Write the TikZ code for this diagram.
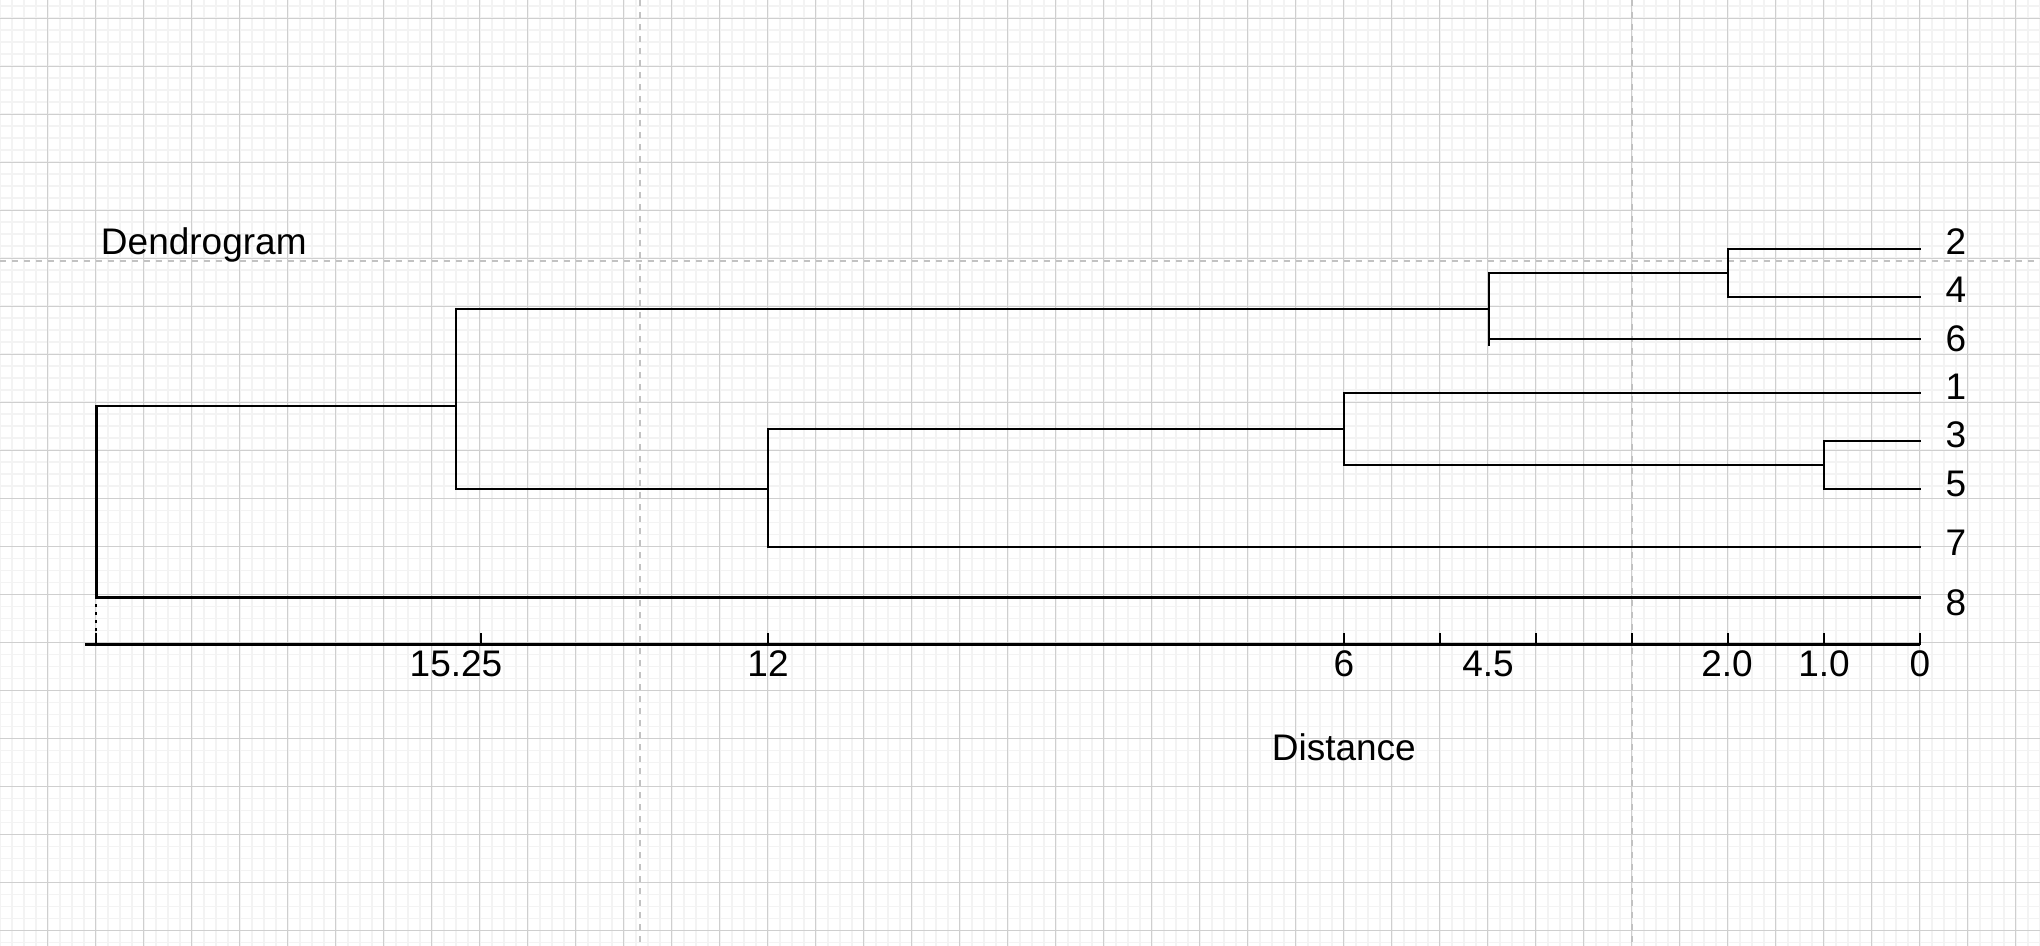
\documentclass[tikz,border=0pt]{standalone}
\usepackage{fontspec}
\setmainfont{Liberation Sans}
\definecolor{gridmajor}{HTML}{CFCFCF}
\definecolor{gridminor}{HTML}{F3F3F3}
\definecolor{pagebreak}{HTML}{C2C2C2}
\begin{document}
\begin{tikzpicture}[x=0.5pt,y=-0.5pt,
  tree/.style={line width=1.1pt,black,line cap=rect},
  axisline/.style={line width=1.3pt,black},
  tickline/.style={line width=1pt,black},
  lbl/.style={font=\fontsize{18.5}{21}\selectfont,anchor=base,inner sep=0pt,outer sep=0pt},
  minorgrid/.style={gridminor,line width=0.8pt},
  majorgrid/.style={gridmajor,line width=0.5pt},
  breakline/.style={pagebreak,line width=1pt,dash pattern=on 3pt off 3pt}]
\useasboundingbox (0,0) rectangle (2040,946);
\fill[white] (0,0) rectangle (2040,946);
\begin{scope}
\clip (0,0) rectangle (2040,946);
% minor grid
\foreach \i in {0,...,171} \draw[minorgrid] (12*\i-0.3,0) -- (12*\i-0.3,946);
\foreach \j in {0,...,79} \draw[minorgrid] (0,12*\j+6.3) -- (2040,12*\j+6.3);
% major grid
\foreach \i in {1,...,42} \draw[majorgrid] (48*\i-0.3,0) -- (48*\i-0.3,946);
\foreach \j in {0,...,19} \draw[majorgrid] (0,48*\j+18.3) -- (2040,48*\j+18.3);
% page break lines
\draw[breakline] (0,260.7) -- (2040,260.7);
\draw[breakline] (640,0) -- (640,946);
\draw[breakline] (1632.2,0) -- (1632.2,946);
\end{scope}

% ---- coordinates ----
\coordinate (E2) at (1920,249.3);
\coordinate (E4) at (1920,297.3);
\coordinate (E6) at (1920,339);
\coordinate (E1) at (1920,393);
\coordinate (E3) at (1920,441.3);
\coordinate (E5) at (1920,489.3);
\coordinate (E7) at (1920,546.7);
\coordinate (E8) at (1920,597.5);

\coordinate (M20t) at (1728,249.3);
\coordinate (M20b) at (1728,297.3);
\coordinate (M20m) at (1728,273);
\coordinate (M45t) at (1488.8,273);
\coordinate (M45b) at (1488.8,345);
\coordinate (M45l) at (1488.8,339);
\coordinate (M45m) at (1488.8,309.3);

\coordinate (M10t) at (1824,441.3);
\coordinate (M10b) at (1824,489.3);
\coordinate (M10m) at (1824,465.3);
\coordinate (M6t) at (1344,393);
\coordinate (M6b) at (1344,465.3);
\coordinate (M6m) at (1344,429.3);
\coordinate (M12t) at (767.7,429.3);
\coordinate (M12b) at (767.7,547.3);
\coordinate (M12l) at (767.7,546.7);
\coordinate (M12m) at (767.7,489.3);

\coordinate (M15t) at (456.3,309.3);
\coordinate (M15b) at (456.3,489.3);
\coordinate (M15m) at (456.3,405.7);
\coordinate (Rt) at (96.4,405.7);
\coordinate (Rb) at (96.4,597.5);

% ---- tree ----
\draw[tree] (E2) -- (M20t) -- (M20b) -- (E4);
\draw[tree] (M20m) -- (M45t) -- (M45b);
\draw[tree] (M45l) -- (E6);
\draw[tree] (E3) -- (M10t) -- (M10b) -- (E5);
\draw[tree] (M10m) -- (M6b) -- (M6t) -- (E1);
\draw[tree] (M6m) -- (M12t) -- (M12b);
\draw[tree] (M12l) -- (E7);
\draw[tree] (M45m) -- (M15t) -- (M15b) -- (M12m);
\draw[tree] (M15m) -- (Rt) -- (Rb) -- (E8);

% ---- axis ----
\coordinate (A0) at (84.8,644.5);
\coordinate (A1) at (1920,644.5);
\draw[axisline] (A0) -- (A1);
\coordinate (D0) at (96.4,604);
\coordinate (D1) at (96.4,633);
\draw[line width=1pt,dash pattern=on 1.5pt off 2.5pt] (D0) -- (D1);
\foreach \x in {96.4,480.8,767.7,1344,1440,1536,1632,1728,1824,1920}
  \draw[tickline] (\x,633) -- (\x,644.5);

\node[lbl] (t1525) at (456,676) {15.25};
\node[lbl] (t12) at (768,676) {12};
\node[lbl] (t6) at (1344,676) {6};
\node[lbl] (t45) at (1488,676) {4.5};
\node[lbl] (t20) at (1727,676) {2.0};
\node[lbl] (t10) at (1824,676) {1.0};
\node[lbl] (t0) at (1920,676) {0};

\node[lbl] (xlabel) at (1343.8,760.7) {Distance};
\node[lbl] (title) at (203.8,255) {Dendrogram};

% ---- leaf labels ----
\node[lbl] (n2) at (1956,255) {2};
\node[lbl] (n4) at (1956,303) {4};
\node[lbl] (n6) at (1956,351.5) {6};
\node[lbl] (n1) at (1956,400) {1};
\node[lbl] (n3) at (1956,448) {3};
\node[lbl] (n5) at (1956,496.5) {5};
\node[lbl] (n7) at (1956,555) {7};
\node[lbl] (n8) at (1956,615) {8};
\end{tikzpicture}
\end{document}
